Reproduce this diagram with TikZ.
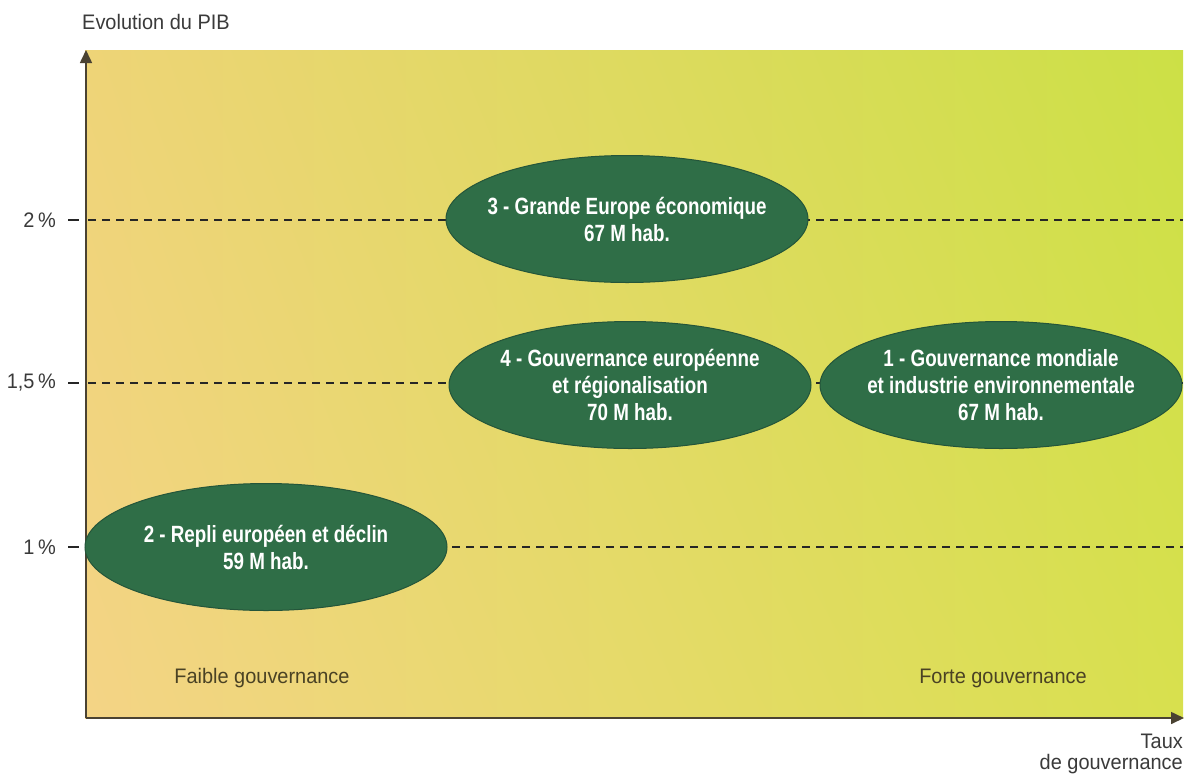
\documentclass[tikz,border=0pt]{standalone}
\usepackage{fontspec}
\setmainfont{Liberation Sans}[FakeStretch=0.80]
\newfontfamily\labfont{Liberation Sans}[FakeStretch=0.95]
\usetikzlibrary{arrows.meta,shapes.geometric,shadings}
\definecolor{bgUL}{HTML}{EED477}
\definecolor{bgLL}{HTML}{F4D486}
\definecolor{bgUR}{HTML}{CCE046}
\definecolor{bgLR}{HTML}{D8E04E}
\definecolor{scenfill}{HTML}{2F6E47}
\definecolor{scenline}{HTML}{24553A}
\definecolor{axiscol}{HTML}{4A4232}
\definecolor{labcol}{HTML}{3A3A3A}
\definecolor{govcol}{HTML}{4A4224}
\tikzset{
  scen/.style={ellipse, fill=scenfill, draw=scenline, line width=1pt,
    minimum width=362pt, minimum height=127pt, inner xsep=-20pt, inner ysep=0pt, align=center,
    text=white, font=\fontsize{23.5}{27}\selectfont\bfseries},
  axisline/.style={draw=axiscol, line width=1.6pt, -{Triangle[width=12pt,length=13pt]}},
  level/.style={draw=black!85, line width=2.4pt, dash pattern=on 8pt off 6pt},
  tick/.style={draw=black!85, line width=2.4pt},
  ylab/.style={anchor=east, text=labcol, inner sep=0pt, font=\labfont\fontsize{21}{22}\selectfont},
  axlab/.style={text=labcol, inner sep=0pt, font=\labfont\fontsize{21}{21}\selectfont},
  govlab/.style={text=govcol, inner sep=0pt, font=\labfont\fontsize{21}{22}\selectfont}
}
\begin{document}
\begin{tikzpicture}[x=1pt,y=-1pt]
\useasboundingbox (0,0) rectangle (1191,780);
\fill[white] (0,0) rectangle (1191,780);
\shade[upper left=bgUL, upper right=bgUR, lower left=bgLL, lower right=bgLR] (85,50) rectangle (1183,718);
% axes
\coordinate (O) at (86,718);
\coordinate (Ytop) at (86,50);
\coordinate (Xend) at (1184,718);
% levels
\coordinate (a2) at (88,220);   \coordinate (b2) at (1183,220);
\coordinate (a15) at (88,383);  \coordinate (b15) at (1183,383);
\coordinate (a1) at (88,547);   \coordinate (b1) at (1183,547);
\draw[level] (a2) -- (b2);
\draw[level] (a15) -- (b15);
\draw[level] (a1) -- (b1);
\coordinate (t2a) at (68,220);  \coordinate (t2b) at (79,220);
\coordinate (t15a) at (68,383); \coordinate (t15b) at (79,383);
\coordinate (t1a) at (68,547);  \coordinate (t1b) at (79,547);
\draw[tick] (t2a) -- (t2b);
\draw[tick] (t15a) -- (t15b);
\draw[tick] (t1a) -- (t1b);
\node[ylab] (l2) at (56,220) {2\,\%};
\node[ylab] (l15) at (56,383) {1,5\,\%};
\node[ylab] (l1) at (56,547) {1\,\%};
\draw[axisline] (O) -- (Ytop);
\draw[axisline] (O) -- (Xend);
% scenarios
\node[scen] (s3) at (627,219) {3 - Grande Europe économique\\67 M hab.};
\node[scen] (s4) at (630,385) {4 - Gouvernance européenne\\et régionalisation\\70 M hab.};
\node[scen] (s1) at (1001,385) {1 - Gouvernance mondiale\\et industrie environnementale\\67 M hab.};
\node[scen] (s2) at (266,547) {2 - Repli européen et déclin\\59 M hab.};
% labels
\node[axlab, anchor=west] (ytitle) at (82,22) {Evolution du PIB};
\node[govlab] (faible) at (262,678) {Faible gouvernance};
\node[govlab] (forte) at (1003,678) {Forte gouvernance};
\node[axlab, anchor=north east, align=right] (xtitle) at (1183,734) {Taux\\de gouvernance};
\end{tikzpicture}
\end{document}
